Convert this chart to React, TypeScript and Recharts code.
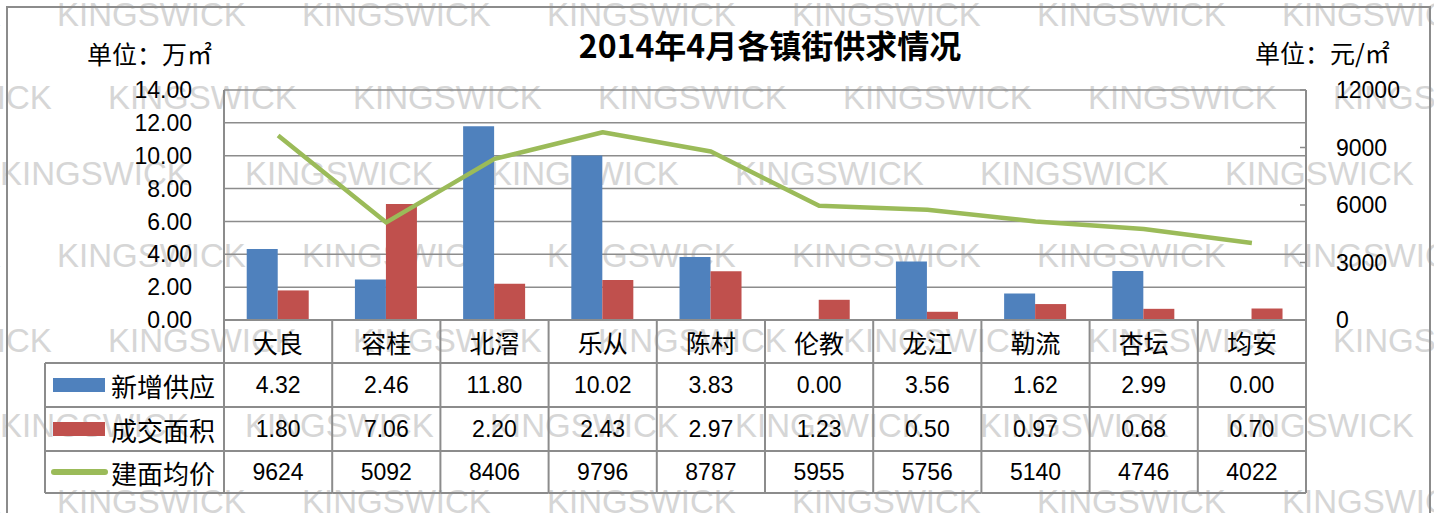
import { Bar, CartesianGrid, ComposedChart, Line, XAxis, YAxis } from 'recharts'

const towns = ['大良', '容桂', '北滘', '乐从', '陈村', '伦教', '龙江', '勒流', '杏坛', '均安']
const newSupply = [4.32, 2.46, 11.8, 10.02, 3.83, 0, 3.56, 1.62, 2.99, 0]
const dealArea = [1.8, 7.06, 2.2, 2.43, 2.97, 1.23, 0.5, 0.97, 0.68, 0.7]
const avgPrice = [9624, 5092, 8406, 9796, 8787, 5955, 5756, 5140, 4746, 4022]
const areaTicks = [0, 2, 4, 6, 8, 10, 12, 14]
const priceTicks = [0, 3000, 6000, 9000, 12000]
const seriesNames = ['新增供应', '成交面积', '建面均价']

const W = 1434
const H = 513
const PLOT_LEFT = 224
const PLOT_RIGHT = 1306
const BAND = (PLOT_RIGHT - PLOT_LEFT) / towns.length
const ROWS = [0, 43, 87, 131, 173] // table row edges below the x axis
const LEGEND_W = 179
const GRID = '#8c8c8c'
const BLUE = '#4F81BD'
const RED = '#C0504D'
const GREEN = '#9BBB59'
const NUM_FONT = '"Liberation Sans", Arial, sans-serif'
const CJK_FONT = '"Noto Sans CJK SC", sans-serif'

// watermark rows: baseline y and x of the first word
const wmRows = [
  [26, 57], [109, 108], [185, 0], [267, 57], [352, 108], [437, 0], [513, 57],
]

const data = towns.map((name, i) => ({
  name,
  supply: newSupply[i],
  deal: dealArea[i],
  price: avgPrice[i],
}))

function LegendColumn({ right, y }: { right: number; y: number }) {
  const left = right - LEGEND_W
  const mid = (r: number) => y + (ROWS[r] + ROWS[r + 1]) / 2
  return (
    <g>
      <line x1={left} x2={left} y1={y + ROWS[1]} y2={y + ROWS[4]} stroke={GRID} strokeWidth={2} />
      {ROWS.slice(1).map((r) => (
        <line key={r} x1={left} x2={right} y1={y + r} y2={y + r} stroke={GRID} strokeWidth={2} />
      ))}
      <rect x={left + 8} y={mid(1) - 7} width={52} height={14} fill={BLUE} />
      <rect x={left + 8} y={mid(2) - 7} width={52} height={14} fill={RED} />
      <line x1={left + 9} x2={left + 60} y1={mid(3)} y2={mid(3)} stroke={GREEN} strokeWidth={6} strokeLinecap="round" />
      {seriesNames.map((s, k) => (
        <text key={s} x={left + 66} y={mid(k + 1)} dominantBaseline="central" fontSize={26} fontFamily={CJK_FONT} fill="#000">
          {s}
        </text>
      ))}
    </g>
  )
}

function TableTick(props: any) {
  const { x, y, payload } = props
  const i = payload.index
  const left = x - BAND / 2
  const right = x + BAND / 2
  const mid = (r: number) => y + (ROWS[r] + ROWS[r + 1]) / 2
  const values = [newSupply[i].toFixed(2), dealArea[i].toFixed(2), String(avgPrice[i])]
  return (
    <g>
      <line x1={left} x2={left} y1={y} y2={y + ROWS[4]} stroke={GRID} strokeWidth={2} />
      {i === towns.length - 1 && (
        <line x1={right} x2={right} y1={y} y2={y + ROWS[4]} stroke={GRID} strokeWidth={2} />
      )}
      {ROWS.slice(1).map((r) => (
        <line key={r} x1={left} x2={right} y1={y + r} y2={y + r} stroke={GRID} strokeWidth={2} />
      ))}
      <text x={x} y={mid(0)} textAnchor="middle" dominantBaseline="central" fontSize={25} fontFamily={CJK_FONT} fill="#000">
        {payload.value}
      </text>
      {values.map((v, k) => (
        <text key={k} x={x} y={mid(k + 1)} textAnchor="middle" dominantBaseline="central" fontSize={23} fontFamily={NUM_FONT} fill="#000">
          {v}
        </text>
      ))}
      {i === 0 && <LegendColumn right={left} y={y} />}
    </g>
  )
}

function Backdrop() {
  return (
    <svg width={W} height={H} style={{ position: 'absolute', left: 0, top: 0 }}>
      <rect x={0} y={0} width={W} height={H} fill="#fff" />
      {wmRows.map(([by, x0], r) =>
        [-1, 0, 1, 2, 3, 4, 5].map((k) => (
          <text key={`${r}-${k}`} x={x0 + k * 245} y={by} fontSize={33} fontFamily={NUM_FONT} fill="#d6d6d6">
            KINGSWICK
          </text>
        )),
      )}
      <rect x={7} y={7} width={1423} height={530} fill="none" stroke={GRID} strokeWidth={2} />
      <text x={770} y={44} textAnchor="middle" dominantBaseline="central" fontSize={32} fontWeight="bold" fontFamily={CJK_FONT} fill="#000">
        2014年4月各镇街供求情况
      </text>
      <text x={87} y={53} dominantBaseline="central" fontSize={25} fontFamily={CJK_FONT} fill="#000">
        单位：万㎡
      </text>
      <text x={1255} y={52} dominantBaseline="central" fontSize={25} fontFamily={CJK_FONT} fill="#000">
        单位：元/㎡
      </text>
    </svg>
  )
}

export default function App() {
  return (
    <div style={{ position: 'absolute', left: 0, top: 0, width: W, height: H, overflow: 'hidden' }}>
      <Backdrop />
      <div style={{ position: 'absolute', left: 0, top: 0 }}>
        <ComposedChart
          width={W}
          height={H}
          data={data}
          margin={{ top: 90, left: PLOT_LEFT - 60, right: W - PLOT_RIGHT - 70, bottom: 20 }}
          barCategoryGap="21%"
          barGap={0}
        >
          <CartesianGrid yAxisId="left" vertical={false} stroke={GRID} strokeWidth={1.5} />
          <XAxis
            dataKey="name"
            interval={0}
            height={ROWS[4]}
            tickLine={false}
            tickSize={0}
            tickMargin={0}
            axisLine={{ stroke: GRID, strokeWidth: 2 }}
            tick={(p: any) => <TableTick {...p} />}
          />
          <YAxis
            yAxisId="left"
            width={60}
            domain={[0, 14]}
            ticks={areaTicks}
            tickFormatter={(v: number) => v.toFixed(2)}
            axisLine={{ stroke: GRID, strokeWidth: 2 }}
            tickLine={false}
            tickSize={0}
            tickMargin={32}
            tick={{ fontSize: 23, fill: '#000', fontFamily: NUM_FONT }}
          />
          <YAxis
            yAxisId="right"
            orientation="right"
            width={70}
            domain={[0, 12000]}
            ticks={priceTicks}
            axisLine={{ stroke: GRID, strokeWidth: 2 }}
            tickLine={{ stroke: GRID, strokeWidth: 1.5 }}
            tickSize={-6}
            tickMargin={36}
            tick={{ fontSize: 23, fill: '#000', fontFamily: NUM_FONT }}
          />
          <Bar yAxisId="left" dataKey="supply" fill={BLUE} isAnimationActive={false} />
          <Bar yAxisId="left" dataKey="deal" fill={RED} isAnimationActive={false} />
          <Line
            yAxisId="right"
            type="linear"
            dataKey="price"
            stroke={GREEN}
            strokeWidth={4.5}
            strokeLinejoin="round"
            dot={false}
            isAnimationActive={false}
          />
        </ComposedChart>
      </div>
    </div>
  )
}
